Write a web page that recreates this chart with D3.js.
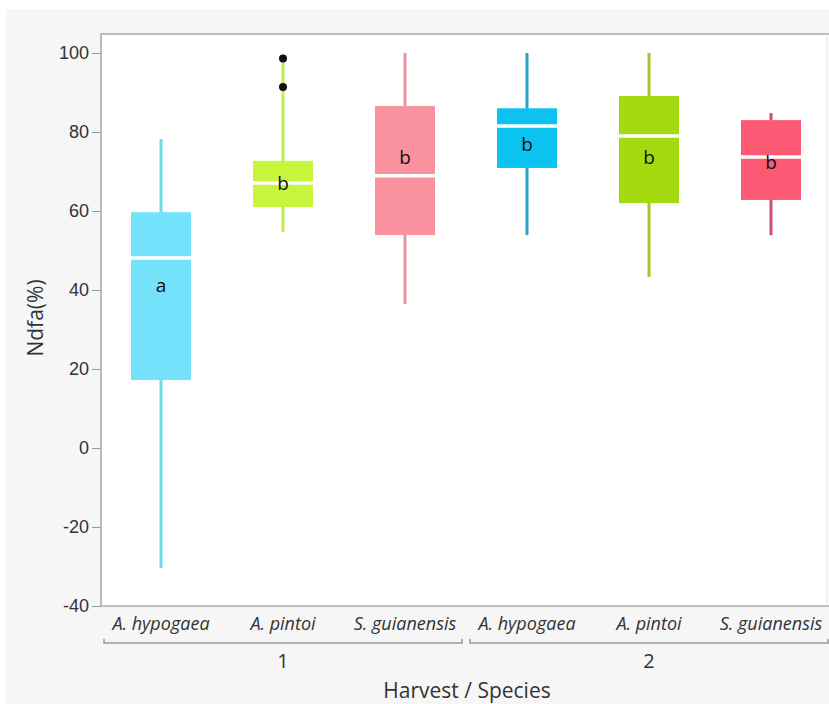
<!DOCTYPE html>
<html>
<head>
<meta charset="utf-8">
<script src="https://cdn.jsdelivr.net/npm/d3@7"></script>
<style>
  body { margin: 0; background: #fff; }
  svg { display: block; font-family: "Segoe UI", "Open Sans", "Noto Sans", sans-serif; }
</style>
</head>
<body>
<svg width="829" height="704"></svg>
<script>
// data
const harvests = ['1', '2'];
const species = ['A. hypogaea', 'A. pintoi', 'S. guianensis'];
const whiskerLow = [-30.4, 54.7, 36.5, 53.9, 43.3, 53.9];
const q1 = [17.2, 61.0, 53.9, 70.9, 62.0, 62.8];
const median = [48.1, 67.1, 68.9, 81.5, 79.0, 73.7];
const q3 = [59.7, 72.7, 86.6, 86.0, 89.1, 83.0];
const whiskerHigh = [78.2, 98.6, 100, 100, 100, 84.8];
const outliers = [[], [98.6, 91.4], [], [], [], []];
const letters = ['a', 'b', 'b', 'b', 'b', 'b'];
const letterY = [41.3, 67.1, 73.7, 77.0, 73.7, 72.2];
const yTicks = [-40, -20, 0, 20, 40, 60, 80, 100];

const boxFill = ['#74e2fa', '#c6f53b', '#fa939f', '#0cc3ef', '#a2da0f', '#fc5a74'];
const whiskerColor = ['#72d8ec', '#c0ec50', '#e8939e', '#2aa6c4', '#a4c826', '#c8526c'];

const groups = [];
harvests.forEach(h => species.forEach(s => groups.push({ harvest: h, species: s })));
const rows = groups.map((g, i) => ({
  key: g.harvest + '|' + g.species, harvest: g.harvest, species: g.species,
  lo: whiskerLow[i], q1: q1[i], med: median[i], q3: q3[i], hi: whiskerHigh[i],
  out: outliers[i], letter: letters[i], ly: letterY[i], fill: boxFill[i], wc: whiskerColor[i]
}));

const svg = d3.select('svg');
const plotL = 101, plotT = 34, plotB = 606, plotR = 832;

// grey window background
svg.append('rect').attr('x', 6).attr('y', 9).attr('width', 823).attr('height', 695).attr('fill', '#f6f6f6');

const x = d3.scaleBand().domain(rows.map(d => d.key)).range([100, plotR]);
const y = d3.scaleLinear().domain([-40, 100]).range([plotB, 53]);

// plot area
svg.append('rect').attr('x', plotL).attr('y', plotT).attr('width', plotR - plotL).attr('height', plotB - plotT)
  .attr('fill', '#fff').attr('stroke', '#a8a8a8').attr('stroke-width', 1.5);
svg.append('line').attr('x1', 827).attr('x2', 827).attr('y1', plotT).attr('y2', plotB)
  .attr('stroke', '#e4e4e4').attr('stroke-width', 1);

// y axis (hyphen minus like the original)
const yAxis = svg.append('g').attr('transform', `translate(${plotL},0)`)
  .call(d3.axisLeft(y).tickValues(yTicks).tickSize(9).tickPadding(3).tickFormat(d => String(d)));
yAxis.select('.domain').remove();
yAxis.selectAll('line').attr('stroke', '#999');
yAxis.selectAll('text').attr('fill', '#333').style('font-size', '18px');

svg.append('text').attr('transform', `translate(43,318) rotate(-90)`)
  .attr('text-anchor', 'middle').attr('fill', '#333').style('font-size', '21px').text('Ndfa(%)');

// boxes
const bw = 60;
const g = svg.selectAll('.box').data(rows).enter().append('g').attr('class', 'box')
  .attr('transform', d => `translate(${x(d.key) + x.bandwidth() / 2},0)`);

g.append('line').attr('x1', 0).attr('x2', 0)
  .attr('y1', d => y(d.hi)).attr('y2', d => y(d.lo))
  .attr('stroke', d => d.wc).attr('stroke-width', 3);
g.append('rect').attr('x', -bw / 2).attr('width', bw)
  .attr('y', d => y(d.q3)).attr('height', d => y(d.q1) - y(d.q3))
  .attr('fill', d => d.fill);
g.append('line').attr('x1', -bw / 2).attr('x2', bw / 2)
  .attr('y1', d => y(d.med)).attr('y2', d => y(d.med))
  .attr('stroke', '#fff').attr('stroke-width', 3.5);
g.selectAll('circle').data(d => d.out).enter().append('circle')
  .attr('cx', 0).attr('cy', v => y(v)).attr('r', 4).attr('fill', '#111');
g.append('text').attr('y', d => y(d.ly)).attr('dy', '0.35em').attr('text-anchor', 'middle')
  .attr('fill', '#111').style('font-size', '19px').text(d => d.letter);

// category labels
svg.selectAll('.cat').data(rows).enter().append('text').attr('class', 'cat')
  .attr('x', d => x(d.key) + x.bandwidth() / 2).attr('y', 630)
  .attr('text-anchor', 'middle').attr('fill', '#333').style('font-size', '18px')
  .style('font-style', 'italic').text(d => d.species);

// harvest brackets
const gw = x.bandwidth() * species.length;
harvests.forEach((h, i) => {
  const x0 = 100 + i * gw + 4, x1 = 100 + (i + 1) * gw - 4;
  svg.append('path').attr('d', `M${x0},639 V643 H${x1} V639`)
    .attr('fill', 'none').attr('stroke', '#999').attr('stroke-width', 1.5);
  svg.append('text').attr('x', 100 + i * gw + gw / 2).attr('y', 668)
    .attr('text-anchor', 'middle').attr('fill', '#333').style('font-size', '20px').text(h);
});

svg.append('text').attr('x', 467).attr('y', 698).attr('text-anchor', 'middle')
  .attr('fill', '#333').style('font-size', '21px').text('Harvest / Species');
</script>
</body>
</html>
